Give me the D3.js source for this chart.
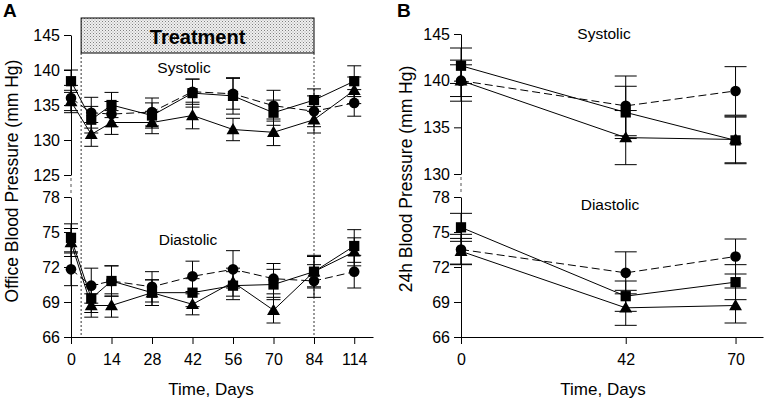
<!DOCTYPE html>
<html><head><meta charset="utf-8">
<script src="https://cdn.jsdelivr.net/npm/d3@7"></script>
<style>
body{margin:0;background:#fff}
svg text{font-family:"Liberation Sans",Arial,sans-serif;fill:#000}
</style>
</head><body><svg id="c" width="765" height="402"></svg>
<script>
// ---------- DATA ----------
const daysA = [0, 7, 14, 28, 42, 56, 70, 84, 114];
const ticksA = [0, 14, 28, 42, 56, 70, 84, 114];
const daysB = [0, 42, 70];
const ticksB = [0, 42, 70];
const sysTicksA = [125, 130, 135, 140, 145];
const sysTicksB = [130, 135, 140, 145];
const diaTicks = [66, 69, 72, 75, 78];

// Panel A – office systolic
const sysA_square = [138.4, 132.9, 135.0, 133.5, 136.7, 136.3, 133.9, 135.7, 138.4];
const sysA_square_se = [1.6, 1.9, 1.8, 1.8, 2.0, 2.6, 1.8, 1.6, 2.2];
const sysA_circle = [136.0, 133.9, 133.7, 134.0, 136.9, 136.6, 134.9, 134.1, 135.3];
const sysA_circle_se = [1.8, 2.2, 1.8, 2.0, 1.8, 2.2, 2.2, 2.2, 1.9];
const sysA_triangle = [135.5, 130.8, 132.5, 132.5, 133.5, 131.5, 131.1, 132.9, 137.1];
const sysA_triangle_se = [1.6, 1.7, 1.7, 1.6, 1.9, 1.6, 1.9, 1.9, 1.9];
// Panel A – office diastolic
const diaA_square = [74.5, 69.3, 70.8, 69.8, 69.8, 70.4, 70.5, 71.6, 73.8];
const diaA_square_se = [1.2, 1.2, 1.3, 1.1, 1.2, 1.2, 1.3, 1.4, 1.4];
const diaA_circle = [71.8, 70.4, 70.8, 70.3, 71.2, 71.8, 71.0, 70.8, 71.6];
const diaA_circle_se = [1.4, 1.5, 1.3, 1.3, 1.3, 1.6, 1.3, 1.4, 1.4];
const diaA_triangle = [74.1, 68.7, 68.7, 69.8, 68.8, 70.7, 68.3, 71.6, 73.3];
const diaA_triangle_se = [1.2, 1.0, 1.0, 1.1, 0.9, 1.2, 1.1, 1.3, 1.2];

// Panel B – 24h systolic
const sysB_square = [141.6, 136.6, 133.6];
const sysB_square_se = [1.9, 2.8, 2.5];
const sysB_circle = [140.0, 137.3, 138.9];
const sysB_circle_se = [2.2, 3.2, 2.6];
const sysB_triangle = [140.0, 133.9, 133.7];
const sysB_triangle_se = [1.7, 2.9, 2.5];
// Panel B – 24h diastolic
const diaB_square = [75.4, 69.5, 70.7];
const diaB_square_se = [1.2, 1.3, 1.5];
const diaB_circle = [73.5, 71.5, 72.9];
const diaB_circle_se = [1.3, 1.8, 1.5];
const diaB_triangle = [73.35, 68.5, 68.7];
const diaB_triangle_se = [1.1, 1.5, 1.5];

// ---------- DRAW ----------
const svg = d3.select("#c");
const defs = svg.append("defs");
const pat = defs.append("pattern").attr("id", "stip").attr("width", 3).attr("height", 3)
  .attr("patternUnits", "userSpaceOnUse");
pat.append("rect").attr("width", 3).attr("height", 3).attr("fill", "#efefef");
pat.append("rect").attr("x", 0).attr("y", 0).attr("width", 1).attr("height", 1).attr("fill", "#808080");
pat.append("rect").attr("x", 1.5).attr("y", 1.5).attr("width", 1).attr("height", 1).attr("fill", "#a0a0a0");

const FS = 16;

function styleAxis(g) {
  g.selectAll("path,line").attr("stroke", "#000").attr("stroke-width", 1);
  g.selectAll("text").style("font-size", FS + "px").attr("fill", "#000")
    .style("font-family", '"Liberation Sans",Arial,sans-serif');
}

function symbolFor(shape) {
  if (shape === "square") return d3.symbol().type(d3.symbolSquare).size(105)();
  if (shape === "circle") return d3.symbol().type(d3.symbolCircle).size(88)();
  return d3.symbol().type(d3.symbolTriangle).size(72)();
}

function drawSeries(g, x, y, days, vals, ses, shape, dashed, capHalf) {
  const pts = days.map((d, i) => ({d, v: vals[i], e: ses[i]}));
  const line = d3.line().x(p => x(p.d)).y(p => y(p.v));
  g.append("path").datum(pts).attr("d", line).attr("fill", "none")
    .attr("stroke", "#000").attr("stroke-width", 1)
    .attr("stroke-dasharray", dashed ? "8,4" : null);
  const eb = g.append("g").attr("stroke", "#000").attr("stroke-width", 1);
  pts.forEach(p => {
    const cx = x(p.d);
    eb.append("line").attr("x1", cx).attr("x2", cx).attr("y1", y(p.v - p.e)).attr("y2", y(p.v + p.e));
    [p.v - p.e, p.v + p.e].forEach(v => {
      eb.append("line").attr("x1", cx - capHalf).attr("x2", cx + capHalf).attr("y1", y(v)).attr("y2", y(v));
    });
  });
  return pts;
}
function drawMarkers(g, x, y, pts, shape) {
  g.selectAll(null).data(pts).enter().append("path")
    .attr("d", symbolFor(shape))
    .attr("transform", p => `translate(${x(p.d)},${y(p.v)})` + (shape === "triangle" ? " translate(0,1)" : ""))
    .attr("fill", "#000");
}

function panel(opts) {
  const g = svg.append("g");
  const {x, ySys, yDia, days, sys, dia, capHalf} = opts;
  const gs = g.append("g").attr("transform", `translate(${x.range()[0]},0)`)
    .call(d3.axisLeft(ySys).tickValues(opts.sysTicks).tickSize(7).tickSizeOuter(0).tickPadding(4).tickFormat(d3.format("d")));
  styleAxis(gs);
  const gd = g.append("g").attr("transform", `translate(${x.range()[0]},0)`)
    .call(d3.axisLeft(yDia).tickValues(diaTicks).tickSize(7).tickSizeOuter(0).tickPadding(4).tickFormat(d3.format("d")));
  styleAxis(gd);
  // broken-axis dashed connector
  g.append("line").attr("x1", x.range()[0]).attr("x2", x.range()[0])
    .attr("y1", ySys.range()[0] + 3).attr("y2", yDia.range()[1] - 3)
    .attr("stroke", "#555").attr("stroke-dasharray", "3,3");
  const gx = g.append("g").attr("transform", `translate(0,${yDia.range()[0]})`)
    .call(d3.axisBottom(x).tickValues(opts.ticks).tickSize(7).tickSizeOuter(0).tickPadding(10).tickFormat(d3.format("d")));
  styleAxis(gx);

  const series = [
    {vals: sys[0], se: sys[1], shape: "square", dashed: false, y: ySys},
    {vals: sys[2], se: sys[3], shape: "circle", dashed: true, y: ySys},
    {vals: sys[4], se: sys[5], shape: "triangle", dashed: false, y: ySys},
    {vals: dia[0], se: dia[1], shape: "square", dashed: false, y: yDia},
    {vals: dia[2], se: dia[3], shape: "circle", dashed: true, y: yDia},
    {vals: dia[4], se: dia[5], shape: "triangle", dashed: false, y: yDia},
  ];
  const sg = g.append("g");
  series.forEach(s => {
    s.pts = drawSeries(sg, x, s.y, days, s.vals, s.se, s.shape, s.dashed, capHalf);
  });
  series.forEach(s => drawMarkers(sg, x, s.y, s.pts, s.shape));
  return g;
}

// Panel A scales (broken x axis: 114 drawn after 84)
const xA = d3.scaleLinear().domain([0, 84, 128]).range([71, 314, 373]);
const ySysA = d3.scaleLinear().domain([125, 145]).range([175, 35]);
const yDiaA = d3.scaleLinear().domain([66, 78]).range([337, 197]);

// treatment box + dashed lines (behind data)
const tStart = 3.5, tEnd = 84;
svg.append("rect").attr("x", xA(tStart)).attr("y", 18).attr("width", xA(tEnd) - xA(tStart)).attr("height", 35)
  .attr("fill", "url(#stip)").attr("stroke", "#000").attr("stroke-width", 1);
svg.append("text").attr("x", (xA(tStart) + xA(tEnd)) / 2).attr("y", 44).attr("text-anchor", "middle")
  .style("font-size", "20px").style("font-weight", "bold").text("Treatment");
[tStart, tEnd].forEach(d => {
  svg.append("line").attr("x1", xA(d)).attr("x2", xA(d)).attr("y1", 53).attr("y2", yDiaA(66))
    .attr("stroke", "#333").attr("stroke-width", 1).attr("stroke-dasharray", "2,2");
});

panel({x: xA, ySys: ySysA, yDia: yDiaA, days: daysA, ticks: ticksA, sysTicks: sysTicksA, capHalf: 7,
  sys: [sysA_square, sysA_square_se, sysA_circle, sysA_circle_se, sysA_triangle, sysA_triangle_se],
  dia: [diaA_square, diaA_square_se, diaA_circle, diaA_circle_se, diaA_triangle, diaA_triangle_se]});

// Panel B scales
const xB = d3.scaleLinear().domain([0, 77]).range([461, 763]);
const ySysB = d3.scaleLinear().domain([130, 145]).range([174, 34]);
const yDiaB = d3.scaleLinear().domain([66, 78]).range([337, 197]);
panel({x: xB, ySys: ySysB, yDia: yDiaB, days: daysB, ticks: ticksB, sysTicks: sysTicksB, capHalf: 11,
  sys: [sysB_square, sysB_square_se, sysB_circle, sysB_circle_se, sysB_triangle, sysB_triangle_se],
  dia: [diaB_square, diaB_square_se, diaB_circle, diaB_circle_se, diaB_triangle, diaB_triangle_se]});

// Labels
const txt = (x, y, s, size, extra) => {
  const t = svg.append("text").attr("x", x).attr("y", y).style("font-size", size + "px").text(s);
  if (extra) extra(t);
  return t;
};
txt(3, 17, "A", 19, t => t.style("font-weight", "bold"));
txt(397, 17, "B", 19, t => t.style("font-weight", "bold"));
txt(184, 73, "Systolic", 15.5, t => t.attr("text-anchor", "middle"));
txt(188, 245, "Diastolic", 15.5, t => t.attr("text-anchor", "middle"));
txt(604, 39, "Systolic", 15.5, t => t.attr("text-anchor", "middle"));
txt(610, 210, "Diastolic", 15.5, t => t.attr("text-anchor", "middle"));
txt(211, 395, "Time, Days", 17, t => t.attr("text-anchor", "middle"));
txt(603, 395, "Time, Days", 17, t => t.attr("text-anchor", "middle"));
txt(0, 0, "Office Blood Pressure (mm Hg)", 17.5, t => t.attr("text-anchor", "middle")
  .attr("transform", "translate(18,181) rotate(-90)"));
txt(0, 0, "24h Blood Pressure (mm Hg)", 17.5, t => t.attr("text-anchor", "middle")
  .attr("transform", "translate(412,179) rotate(-90)"));
</script>
</body></html>
